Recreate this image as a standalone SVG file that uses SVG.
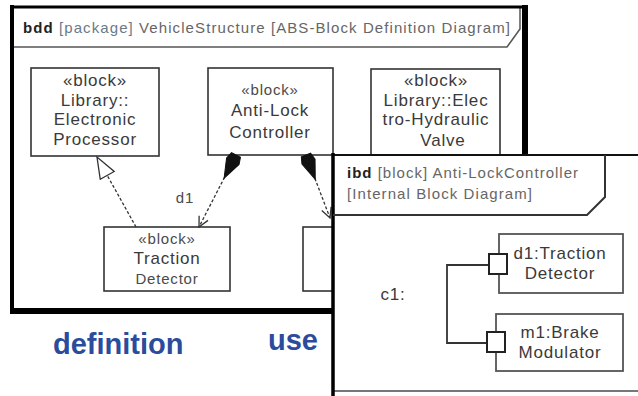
<svg xmlns="http://www.w3.org/2000/svg" width="638" height="396" viewBox="0 0 638 396">
<defs>
<style>
.t{font-family:"Liberation Sans",Arial,sans-serif;font-size:17px;fill:#3a3a3a;letter-spacing:0.8px;text-anchor:middle}
.st{font-size:15px;fill:#4a4a4a}
.blk{fill:#fff;stroke:#333;stroke-width:1.6}
.part{fill:#fff;stroke:#555;stroke-width:1.8}
.port{fill:#fff;stroke:#222;stroke-width:2}
.hdr{font-family:"Liberation Sans",Arial,sans-serif;font-size:15px;fill:#666}
.con{fill:none;stroke:#333;stroke-width:1.3;stroke-dasharray:3 2}
.big{font-family:"Liberation Sans",Arial,sans-serif;font-size:29px;font-weight:bold;fill:#2b4c9c}
</style>
<marker id="gen" markerUnits="userSpaceOnUse" markerWidth="24" markerHeight="20" refX="22" refY="9" orient="auto">
<path d="M1,1 L22,9 L1,17 z" fill="#fff" stroke="#333" stroke-width="1.3"/>
</marker>
<marker id="dia" markerUnits="userSpaceOnUse" markerWidth="28" markerHeight="16" refX="1" refY="8" orient="auto">
<path d="M1,3 L8,1 L27,8 L8,15 L1,13 z" fill="#111" stroke="#111" stroke-width="1"/>
</marker>
<marker id="open" markerUnits="userSpaceOnUse" markerWidth="14" markerHeight="14" refX="11" refY="6" orient="auto">
<path d="M1,1 L11,6 L1,11" fill="none" stroke="#333" stroke-width="1.3"/>
</marker>
</defs>
<rect width="638" height="396" fill="#fff"/>

<g id="bdd-frame">
<rect x="12" y="7" width="513" height="304" fill="#fff" stroke="none"/>
<polyline points="12,47 507,47 520,29 520,7" fill="none" stroke="#555" stroke-width="1.5"/>
<line x1="10" y1="7" x2="528" y2="7" stroke="#000" stroke-width="3"/>
<line x1="12" y1="5" x2="12" y2="314" stroke="#000" stroke-width="4"/>
<line x1="525" y1="5" x2="525" y2="314" stroke="#000" stroke-width="6"/>
<line x1="10" y1="311" x2="528" y2="311" stroke="#000" stroke-width="6"/>
<text class="hdr" x="23" y="33" textLength="487" lengthAdjust="spacing"><tspan font-weight="bold" fill="#222">bdd</tspan> <tspan fill="#6a7a88">[package]</tspan> VehicleStructure [ABS-Block Definition Diagram]</text>
</g>

<g id="electronic-processor">
<rect class="blk" x="31" y="68" width="128" height="88"/>
<text class="t" x="95" y="86">«block»</text>
<text class="t" x="95" y="106">Library::</text>
<text class="t" x="95" y="125">Electronic</text>
<text class="t" x="95" y="145">Processor</text>
</g>

<g id="anti-lock-controller">
<rect class="blk" x="208" y="68" width="125" height="87"/>
<text class="t st" x="270" y="95">«block»</text>
<text class="t" x="270" y="116">Anti-Lock</text>
<text class="t" x="270" y="138">Controller</text>
</g>

<g id="electro-hydraulic-valve">
<rect class="blk" x="371" y="69" width="129" height="86"/>
<text class="t" x="436" y="86">«block»</text>
<text class="t" x="436" y="106">Library::Elec</text>
<text class="t" x="436" y="125">tro-Hydraulic</text>
<text class="t" x="443" y="146">Valve</text>
</g>

<g id="traction-detector">
<rect class="blk" x="104" y="227" width="126" height="64"/>
<text class="t st" x="167" y="244">«block»</text>
<text class="t" x="167" y="264">Traction</text>
<text class="t st" x="167" y="284">Detector</text>
</g>

<g id="brake-modulator">
<rect class="blk" x="303" y="227" width="126" height="64"/>
</g>

<g id="bdd-connectors">
<line class="con" x1="236" y1="155" x2="199" y2="227" marker-start="url(#dia)" marker-end="url(#open)"/>
<line class="con" x1="306" y1="155" x2="330" y2="218" marker-start="url(#dia)" marker-end="url(#open)"/>
<line class="con" x1="136" y1="227" x2="97" y2="157" marker-end="url(#gen)"/>
<text class="t st" x="185" y="203" fill="#555">d1</text>
</g>

<g id="ibd-frame">
<rect x="333" y="155" width="330" height="237" fill="#fff" stroke="none"/>
<line x1="333" y1="155" x2="638" y2="155" stroke="#111" stroke-width="2"/>
<line x1="333" y1="391" x2="638" y2="391" stroke="#777" stroke-width="2"/>
<line x1="333" y1="153" x2="333" y2="396" stroke="#000" stroke-width="3.5"/>
<polyline points="333,215 587,215 605,197 605,155" fill="none" stroke="#333" stroke-width="2"/>
<text class="hdr" x="347" y="178" textLength="231" lengthAdjust="spacing"><tspan font-weight="bold" fill="#222">ibd</tspan> [block] Anti-LockController</text>
<text class="hdr" x="347" y="199" textLength="185" lengthAdjust="spacing" fill="#6a7a80">[Internal Block Diagram]</text>
<text class="t" x="393" y="300">c1:</text>
</g>

<g id="ibd-connectors">
<polyline points="489,265 447,265 447,343 487,343" fill="none" stroke="#333" stroke-width="1.8"/>
</g>

<g id="d1-traction-detector">
<rect class="part" x="499" y="234" width="124" height="59"/>
<rect class="port" x="489" y="254" width="18" height="20"/>
<text class="t" x="560" y="259">d1:Traction</text>
<text class="t" x="560" y="279">Detector</text>
</g>

<g id="m1-brake-modulator">
<rect class="part" x="496" y="314" width="127" height="57"/>
<rect class="port" x="487" y="332" width="18" height="20"/>
<text class="t" x="560" y="338">m1:Brake</text>
<text class="t" x="560" y="358">Modulator</text>
</g>

<g id="labels">
<text class="big" x="53" y="354">definition</text>
<text class="big" x="268" y="350">use</text>
</g>
</svg>
